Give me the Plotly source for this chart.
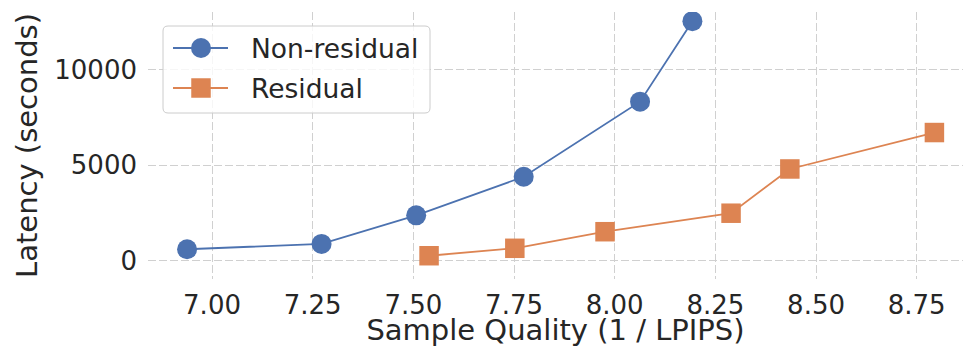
import plotly.graph_objects as go

# Latency vs. sample quality for the two model variants
nonres_quality = [6.938, 7.272, 7.507, 7.774, 8.063, 8.193]
nonres_latency = [600, 880, 2380, 4400, 8340, 12560]

res_quality = [7.539, 7.752, 7.976, 8.289, 8.435, 8.794]
res_latency = [260, 650, 1520, 2490, 4810, 6720]

x_ticks = [7.00, 7.25, 7.50, 7.75, 8.00, 8.25, 8.50, 8.75]
x_tick_text = ["7.00", "7.25", "7.50", "7.75", "8.00", "8.25", "8.50", "8.75"]
y_ticks = [0, 5000, 10000]
y_tick_text = ["0", "5000", "10000"]

series_names = ["Non-residual", "Residual"]
BLUE = "#4C72B0"
ORANGE = "#DD8452"
TEXT = "#262626"
GRID = "#d0d0d0"
FONT = "DejaVu Sans"

W, H = 963, 347
ML, MR, MT, MB = 148, 0, 12, 68
PW, PH = W - ML - MR, H - MT - MB

fig = go.Figure()
fig.add_trace(go.Scatter(
    x=nonres_quality, y=nonres_latency, mode="lines+markers", name=series_names[0],
    line=dict(color=BLUE, width=1.8),
    marker=dict(symbol="circle", size=20, color=BLUE, line=dict(width=0)),
    showlegend=False,
))
fig.add_trace(go.Scatter(
    x=res_quality, y=res_latency, mode="lines+markers", name=series_names[1],
    line=dict(color=ORANGE, width=1.8),
    marker=dict(symbol="square", size=19.5, color=ORANGE, line=dict(width=0)),
    showlegend=False,
))


def px_x(p):
    return (p - ML) / PW


def px_y(p):
    return (H - MB - p) / PH


# Legend panel, laid out in pixel units and converted to paper space
x0, x1, y0, y1, r = 163, 430, 26, 113, 5
path = (
    f"M {px_x(x0 + r)},{px_y(y0)} L {px_x(x1 - r)},{px_y(y0)} "
    f"Q {px_x(x1)},{px_y(y0)} {px_x(x1)},{px_y(y0 + r)} "
    f"L {px_x(x1)},{px_y(y1 - r)} Q {px_x(x1)},{px_y(y1)} {px_x(x1 - r)},{px_y(y1)} "
    f"L {px_x(x0 + r)},{px_y(y1)} Q {px_x(x0)},{px_y(y1)} {px_x(x0)},{px_y(y1 - r)} "
    f"L {px_x(x0)},{px_y(y0 + r)} Q {px_x(x0)},{px_y(y0)} {px_x(x0 + r)},{px_y(y0)} Z"
)
shapes = [dict(type="path", xref="paper", yref="paper", path=path,
               fillcolor="rgba(255,255,255,0.8)", line=dict(color="#cccccc", width=1))]
annotations = []
rows = [(48, BLUE, "circle", 20), (88, ORANGE, "square", 19.5)]
for (ry, col, sym, sz), name in zip(rows, series_names):
    shapes.append(dict(type="line", xref="paper", yref="paper",
                       x0=px_x(173), x1=px_x(228), y0=px_y(ry), y1=px_y(ry),
                       line=dict(color=col, width=1.8)))
    h = sz / 2
    shapes.append(dict(type="circle" if sym == "circle" else "rect",
                       xref="paper", yref="paper",
                       x0=px_x(201 - h), x1=px_x(201 + h),
                       y0=px_y(ry + h), y1=px_y(ry - h),
                       fillcolor=col, line=dict(width=0)))
    annotations.append(dict(xref="paper", yref="paper", x=px_x(249), y=px_y(ry),
                            xanchor="left", yanchor="middle", showarrow=False,
                            text=name, font=dict(family=FONT, size=26.5, color=TEXT)))

fig.update_layout(
    width=W, height=H,
    margin=dict(l=ML, r=MR, t=MT, b=MB, pad=0),
    paper_bgcolor="white", plot_bgcolor="white",
    font=dict(family=FONT, color=TEXT),
    shapes=shapes, annotations=annotations,
)
fig.update_xaxes(
    range=[6.841, 8.865], tickvals=x_ticks, ticktext=x_tick_text,
    showgrid=True, gridcolor=GRID, gridwidth=1.2, griddash="8px,3px",
    zeroline=False, showline=False, ticks="", ticklabelstandoff=8,
    tickfont=dict(size=26, color=TEXT),
    title=dict(text="Sample Quality (1 / LPIPS)", font=dict(size=29, color=TEXT), standoff=6),
    automargin=False,
)
fig.update_yaxes(
    range=[-960, 13041], tickvals=y_ticks, ticktext=y_tick_text,
    showgrid=True, gridcolor=GRID, gridwidth=1.2, griddash="8px,3px",
    zeroline=False, showline=False, ticks="", ticklabelstandoff=10,
    tickfont=dict(size=26, color=TEXT),
    title=dict(text="Latency (seconds)", font=dict(size=29, color=TEXT), standoff=8),
    automargin=False,
)

fig.write_html("out.html")
